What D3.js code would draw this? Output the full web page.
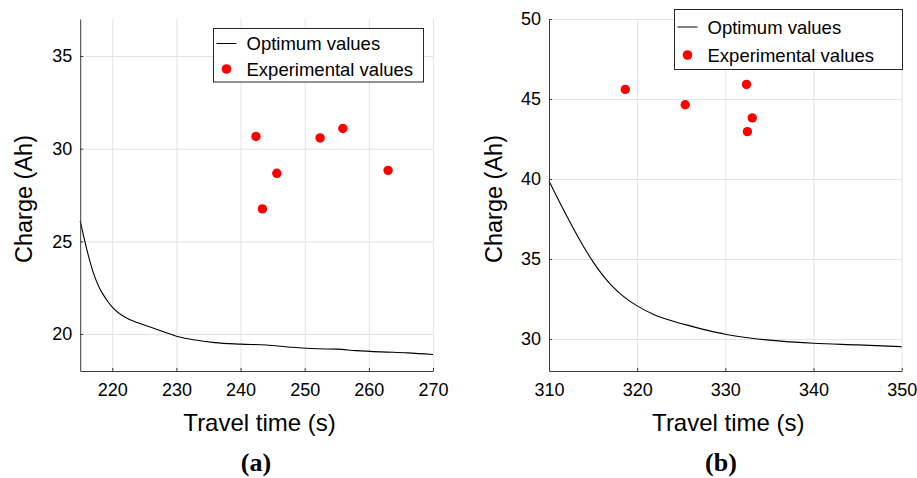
<!DOCTYPE html>
<html>
<head>
<meta charset="utf-8">
<script src="https://cdn.jsdelivr.net/npm/d3@7"></script>
<style>
    body { margin: 0; background: #fff; }
    svg { display: block; }
    text { font-family: "Liberation Sans", Arial, Helvetica, sans-serif; fill: #000; }
</style>
</head>
<body>
<div id="chart"></div>
<script>
// ---- panel (a) data ----
const optTimeA = [215, 216, 217, 218, 219, 220, 222, 224, 226, 228, 230, 233, 236, 240, 244, 248, 252, 255, 258, 262, 266, 270];
const optChargeA = [26.1, 24.6, 23.35, 22.48, 21.9, 21.45, 20.9, 20.6, 20.36, 20.12, 19.88, 19.67, 19.53, 19.45, 19.4, 19.28, 19.2, 19.18, 19.1, 19.03, 18.98, 18.89];
const expTimeA = [242.4, 243.4, 245.65, 252.4, 255.95, 263.0];
const expChargeA = [30.66, 26.75, 28.67, 30.58, 31.09, 28.83];
const xTicksA = [220, 230, 240, 250, 260, 270];
const yTicksA = [20, 25, 30, 35];

// ---- panel (b) data ----
const optTimeB = [310, 311, 312, 313, 314, 315, 316, 317, 318, 319, 320, 322, 324, 326, 328, 330, 333, 336, 340, 345, 350];
const optChargeB = [39.87, 38.77, 37.7, 36.67, 35.7, 34.82, 34.05, 33.4, 32.87, 32.43, 32.07, 31.5, 31.12, 30.82, 30.54, 30.3, 30.05, 29.88, 29.73, 29.63, 29.52];
const expTimeB = [318.65, 325.45, 332.4, 333.05, 332.5];
const expChargeB = [45.6, 44.64, 45.91, 43.82, 42.96];
const xTicksB = [310, 320, 330, 340, 350];
const yTicksB = [30, 35, 40, 45, 50];

const legendLabels = ["Optimum values", "Experimental values"];
const xLabel = "Travel time (s)";
const yLabel = "Charge (Ah)";

const svg = d3.select("#chart").append("svg")
    .attr("width", 917)
    .attr("height", 478);

function drawPanel(p) {
    const x = d3.scaleLinear().domain(p.xDomain).range([p.left, p.right]);
    const y = d3.scaleLinear().domain(p.yDomain).range([p.bottom, p.top]);
    const g = svg.append("g");

    // grid
    g.append("g")
        .attr("transform", `translate(0,${p.bottom})`)
        .call(d3.axisBottom(x).tickValues(p.xTicks).tickSize(-(p.bottom - p.top)).tickFormat(""))
        .call(s => s.select(".domain").remove())
        .call(s => s.selectAll("line").attr("stroke", "#e3e3e3"));
    g.append("g")
        .attr("transform", `translate(${p.left},0)`)
        .call(d3.axisLeft(y).tickValues(p.yTicks).tickSize(-(p.right - p.left)).tickFormat(""))
        .call(s => s.select(".domain").remove())
        .call(s => s.selectAll("line").attr("stroke", "#e3e3e3"));

    // optimum curve
    const line = d3.line()
        .x((d, i) => x(p.optTime[i]))
        .y(d => y(d))
        .curve(d3.curveMonotoneX);
    g.append("path")
        .datum(p.optCharge)
        .attr("fill", "none")
        .attr("stroke", "#000")
        .attr("stroke-width", 1.1)
        .attr("d", line);

    // experimental points
    g.selectAll(".exp")
        .data(p.expCharge)
        .enter().append("circle")
        .attr("class", "exp")
        .attr("cx", (d, i) => x(p.expTime[i]))
        .attr("cy", d => y(d))
        .attr("r", 4.7)
        .attr("fill", "#ff0000");

    // axes
    const xAxis = g.append("g")
        .attr("transform", `translate(0,${p.bottom})`)
        .call(d3.axisBottom(x).tickValues(p.xTicks).tickSizeInner(-3).tickSizeOuter(0).tickPadding(12));
    const yAxis = g.append("g")
        .attr("transform", `translate(${p.left},0)`)
        .call(d3.axisLeft(y).tickValues(p.yTicks).tickSizeInner(-3).tickSizeOuter(0).tickPadding(8));
    [xAxis, yAxis].forEach(a => {
        a.select(".domain").attr("stroke", "#3a3a3a");
        a.selectAll(".tick line").attr("stroke", "#3a3a3a");
        a.selectAll(".tick text").attr("font-size", "18px").attr("fill", "#111");
    });

    // axis labels
    g.append("text")
        .attr("x", (p.left + p.right) / 2 + 3)
        .attr("y", 431)
        .attr("text-anchor", "middle")
        .attr("font-size", "24px")
        .text(xLabel);
    g.append("text")
        .attr("transform", `translate(${p.yLabelX},199) rotate(-90)`)
        .attr("text-anchor", "middle")
        .attr("font-size", "23.5px")
        .text(yLabel);

    // panel tag
    g.append("text")
        .attr("x", p.tagX)
        .attr("y", 471)
        .attr("text-anchor", "middle")
        .attr("font-size", "26px")
        .attr("font-weight", "bold")
        .style("font-family", "'Liberation Serif', 'Times New Roman', serif")
        .text(p.tag);

    // legend
    const L = p.legend;
    const lg = g.append("g");
    lg.append("rect")
        .attr("x", L.x).attr("y", L.y)
        .attr("width", L.w).attr("height", L.h)
        .attr("fill", "#fff")
        .attr("stroke", "#262626");
    lg.append("line")
        .attr("x1", L.x + 3).attr("x2", L.x + 23)
        .attr("y1", L.row1).attr("y2", L.row1)
        .attr("stroke", "#000");
    lg.append("circle")
        .attr("cx", L.x + 13).attr("cy", L.row2)
        .attr("r", 4.8)
        .attr("fill", "#ff0000");
    [L.row1, L.row2].forEach((r, i) => {
        lg.append("text")
            .attr("x", L.x + 33)
            .attr("y", r + 6.8)
            .attr("font-size", "18.5px")
            .text(legendLabels[i]);
    });
}

drawPanel({
    left: 80.2, right: 433, top: 19, bottom: 371,
    xDomain: [215, 270], yDomain: [18, 37],
    xTicks: xTicksA, yTicks: yTicksA,
    optTime: optTimeA, optCharge: optChargeA,
    expTime: expTimeA, expCharge: expChargeA,
    yLabelX: 32, tagX: 256, tag: "(a)",
    legend: { x: 213.5, y: 28.5, w: 210, h: 53.5, row1: 43.5, row2: 69 }
});

drawPanel({
    left: 549, right: 901.7, top: 19, bottom: 371,
    xDomain: [310, 350], yDomain: [28, 50],
    xTicks: xTicksB, yTicks: yTicksB,
    optTime: optTimeB, optCharge: optChargeB,
    expTime: expTimeB, expCharge: expChargeB,
    yLabelX: 501.5, tagX: 721, tag: "(b)",
    legend: { x: 674.5, y: 9.5, w: 228, h: 60, row1: 27, row2: 55 }
});
</script>
</body>
</html>
